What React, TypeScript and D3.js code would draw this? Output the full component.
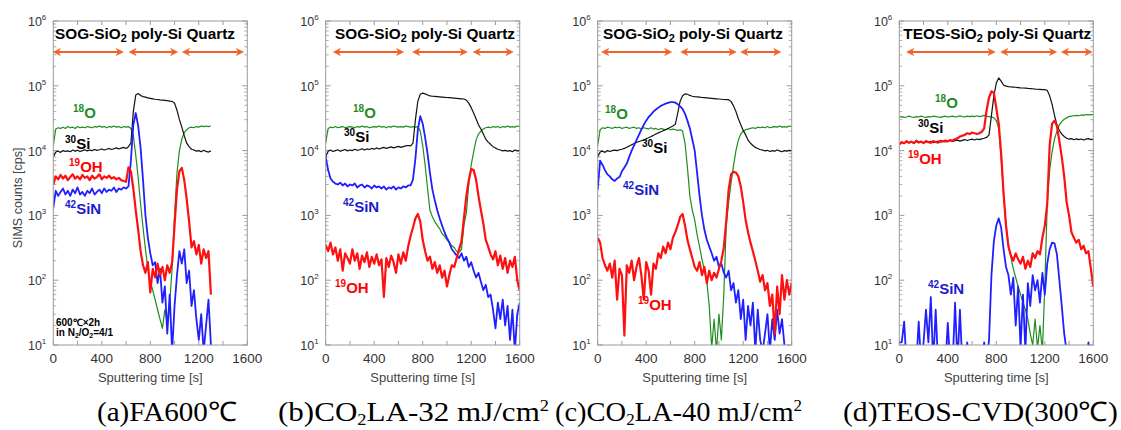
import React from 'react';
import * as d3 from 'd3';

// ---------------- DATA ----------------
const TIME_STEP = 20; // seconds between samples (index * step)
const X_TICKS = [0, 400, 800, 1200, 1600];
const X_MINOR = [200, 600, 1000, 1400];
const Y_EXPONENTS = [1, 2, 3, 4, 5, 6];

// Panel (a) FA600C  (0..1300 s)
const A_O18 = [12000,21500,22500,22000,23000,22000,23500,22500,23000,22000,
  23500,22500,23000,22500,23500,23000,22500,23500,23000,24000,
  23000,23500,22500,23500,23000,24000,23000,23500,22500,23500,
  23000,23500,22000,17000,8500,3800,1500,650,300,150,
  95,70,50,35,25,18,35,22,45,150,
  1000,4500,10000,15000,19000,21000,22500,23000,22500,23500,
  23000,24000,23500,24000,23500,24000];
const A_Si30 = [8000,9500,9800,9400,10000,9700,9900,9600,10200,9800,
  10100,9700,10000,10300,9900,10200,10000,10400,10100,10300,
  10600,10200,10500,10800,10400,10700,11000,10600,10900,11200,
  10800,11500,13000,40000,72000,76000,71000,68000,67000,65000,
  64000,63000,62000,61500,60500,60000,59500,59000,58000,57500,
  54000,42000,30000,23000,17000,13000,11500,10500,10200,9800,
  10000,9600,10100,9700,9500,9900];
const A_SiN42 = [1300,2400,2000,2300,2600,2100,2400,2000,2500,2200,
  2700,2100,2300,2000,2400,2200,2600,2100,2300,2500,
  2200,2600,2300,2500,2400,2700,2300,2600,2500,2700,
  2600,2800,7000,25000,38000,24000,11000,3500,1000,450,
  260,170,190,90,150,45,80,15,60,8,
  40,120,280,180,300,90,140,40,70,25,
  12,30,8,20,50,10];
const A_OH19 = [3000,4000,3600,4200,3700,4100,3500,3900,4300,3700,
  4000,3600,4200,3800,4000,3500,4100,3700,3900,4300,
  3600,4000,3800,4100,3700,3900,3600,3800,3500,3400,
  3300,5500,4800,2600,1200,600,280,170,130,190,
  65,150,110,180,120,160,100,170,130,190,
  700,2500,4800,5400,3500,1800,800,320,400,250,
  350,180,300,220,280,60];

// Panel (b) CO2LA-32 mJ/cm2
const B_O18 = [13000,22000,23000,22500,23500,22500,23000,23500,22500,23000,
  23500,23000,22500,23500,23000,24000,23000,23500,22500,23000,
  23500,23000,24000,23000,23500,22500,23500,23000,24000,23500,
  23000,23500,23000,24000,23500,23000,23500,23000,23500,20000,
  12000,6000,2600,1200,950,800,700,620,520,480,
  420,380,340,320,280,270,300,700,1100,3000,
  6000,9500,14500,18000,20000,21500,22500,23000,22500,23500,
  23000,23500,22500,23500,23000,24000,23000,23500,23000,24000,
  23500];
const B_Si30 = [8000,9800,10200,9700,10000,10300,9800,10100,10400,9900,
  10200,10000,10500,10100,10300,10700,10200,10600,10400,10800,
  10500,11000,10600,10900,11200,10800,11100,11400,11000,11300,
  11600,11200,11500,11800,12000,11800,13000,30000,58000,74000,
  77000,75000,72000,70000,69000,68500,68000,67500,67000,66500,
  66000,65500,65000,64500,64000,63500,63000,62500,60000,54000,
  46000,38000,31000,25000,21500,18000,15000,13500,12500,11500,
  11000,10500,10200,9900,10100,9800,10000,9600,10200,9900,
  10000];
const B_SiN42 = [8000,5000,3700,3300,3100,3000,3200,2900,3100,2800,
  3000,2900,3100,2700,2900,3000,2700,2900,2800,2600,
  2900,2700,2800,2600,2800,2500,2700,2600,2800,2500,
  2700,2600,2800,2700,2900,2900,3600,7500,21000,34000,
  26000,16000,9000,4500,2500,1700,1200,900,700,550,
  450,380,300,270,240,220,260,200,230,160,
  190,140,110,130,95,70,85,55,60,35,
  18,45,25,50,20,40,12,35,8,30,
  45];
const B_OH19 = [350,280,380,250,320,200,300,140,260,220,
  180,300,200,260,150,240,190,270,160,230,
  180,250,170,210,55,220,160,240,190,130,
  250,180,270,200,330,480,650,900,1050,800,
  420,280,200,230,150,190,130,170,110,140,
  80,120,170,160,220,300,400,900,2000,3500,
  5200,5000,3600,2000,1200,750,420,330,250,210,
  280,170,240,150,220,130,200,160,230,100,
  70];

// Panel (c) CO2LA-40 mJ/cm2
const C_O18 = [12000,21000,22500,22000,23000,22500,22000,23000,22500,23000,
  22000,22500,23000,22000,22500,23000,22000,22500,21500,22500,
  22000,21500,22500,21500,22000,21000,22000,21500,21000,22000,
  21000,21500,21000,20500,21000,20000,13000,5500,2000,1200,
  850,500,330,210,140,95,40,9,25,8,
  30,12,60,700,1600,3200,5800,10000,14500,18000,
  20000,21000,21500,22000,22500,22000,23000,22500,23000,22500,
  23500,22500,23000,23500,23000,24000,23000,23500,23000,24000,
  23500];
const C_Si30 = [8000,9500,9800,9400,10000,9700,10000,10200,10000,10300,
  10500,10800,11300,11800,12300,12800,13300,13800,14200,14600,
  15200,15800,16500,17200,18000,18800,19500,20300,21000,22000,
  23000,24000,25500,38000,58000,70000,75000,74000,71000,69000,
  68000,67500,67000,66000,65500,65000,64500,64000,63500,63000,
  62500,62000,61500,61000,61000,57000,49000,40000,31000,25000,
  20500,17500,14500,13000,12000,11200,10800,10400,10200,9900,
  10100,9700,10000,9800,10200,9900,9600,10000,9800,10100,
  9900];
const C_SiN42 = [2500,7000,6000,5000,4300,4000,3600,3400,3700,3900,
  4800,5500,6300,8000,10000,12000,14500,17500,21000,25000,
  29000,33000,36000,40000,43000,46000,49000,51000,53000,54500,
  56000,56000,55000,52000,48000,44000,37000,29000,22000,15000,
  10000,4500,2000,1000,600,420,330,260,200,230,
  160,180,130,110,140,70,90,45,70,25,
  50,12,40,20,45,8,35,12,8,15,
  30,8,25,12,35,15,25,10];
const C_OH19 = [450,380,220,170,140,180,110,200,50,150,
  120,14,170,130,200,100,160,220,120,50,
  190,140,60,180,150,260,220,330,260,380,
  300,450,550,700,950,1050,700,420,300,220,
  160,140,190,120,160,90,140,100,130,110,
  150,200,320,800,2500,4300,4700,4600,4000,2800,
  1600,850,550,380,280,200,140,95,120,70,
  90,40,60,15,80,30,120,50,100,60,
  90];

// Panel (d) TEOS-CVD(300C)
const D_O18 = [33000,33500,32500,33000,34000,33000,32500,33500,33000,34000,
  33000,32500,33500,33000,34000,33500,33000,32500,33500,34000,
  33000,33500,34000,33000,33500,34500,33500,33000,34000,33500,
  34000,33500,34500,33500,34000,35000,34000,33500,33000,32000,
  29000,22000,7500,2000,700,350,230,150,110,80,
  60,45,35,25,15,10,25,9,20,8,
  80,1500,5000,9500,15000,20000,25000,28000,30500,32000,
  33500,34000,34500,35000,34500,35500,35000,36000,35500,36000,
  36000];
const D_Si30 = [12500,13500,13000,13800,13200,13600,13000,13800,13300,13700,
  13200,13800,13400,13900,13300,13700,14000,13500,14100,13600,
  14000,14300,13800,14200,14500,14000,14400,14800,14300,14700,
  15000,14600,15100,14800,15200,15500,16000,17500,35000,70000,
  110000,132000,118000,103000,99000,97000,96000,95500,95000,94000,
  93000,92500,92000,91000,90500,90000,89000,88500,88000,87000,
  87000,85000,70000,52000,35000,25000,20500,18000,16500,15500,
  15000,15300,14700,15200,14800,15100,14600,15000,15300,14800,
  15000];
const D_SiN42 = [11,11,23,5,5,5,5,5,23,5,
  11,35,11,55,5,35,5,5,5,5,
  22,5,5,45,5,35,5,5,11,5,
  5,5,5,5,5,11,5,12,120,400,
  700,900,650,300,160,120,60,110,20,80,
  9,60,8,90,40,120,70,100,45,130,
  60,180,300,380,370,250,100,40,15,8,
  5,5,5,5,5,5,5,5,11,5,
  5];
const D_OH19 = [12500,13500,13000,14000,13200,13800,13000,14200,13400,13800,
  13000,14000,13500,13200,14000,13600,13300,14200,13800,14300,
  13900,14500,14200,15000,15500,16500,17000,17500,18500,18000,
  19000,18500,18000,18500,19500,22000,42000,66000,82000,78000,
  45000,26000,9000,2200,700,330,240,200,260,210,
  180,230,150,200,160,260,220,280,250,450,
  700,1500,12000,26000,29000,24000,14000,8000,4000,1600,
  1000,550,450,380,420,300,340,260,280,150,
  80];

// Layer ranges (arrows), in seconds
const A_ARROWS = [[0, 577], [625, 1026], [1065, 1568]];
const B_ARROWS = [[63, 643], [717, 1167], [1217, 1545]];
const C_ARROWS = [[33, 610], [685, 1141], [1180, 1510]];
const D_ARROWS = [[61, 790], [837, 1297], [1337, 1590]];

const SERIES_STYLE = {
  O18: { color: '#1e8c1e', width: 1.2, label: '#1e8c1e' },
  Si30: { color: '#111111', width: 1.2, label: '#000000' },
  SiN42: { color: '#1f1fff', width: 1.8, label: '#1a1ad0' },
  OH19: { color: '#ff1010', width: 2.2, label: '#ff0000' },
};
const DRAW_ORDER = ['O18', 'Si30', 'SiN42', 'OH19'];
const LABEL_TEXT = {
  O18: ['18', 'O'],
  Si30: ['30', 'Si'],
  SiN42: ['42', 'SiN'],
  OH19: ['19', 'OH'],
};

// ---------------- LAYOUT ----------------
const TOP = 21;
const BOTTOM = 345;
const PW = 194;

const PANELS = [
  {
    id: 'a', left: 53.3,
    data: { O18: A_O18, Si30: A_Si30, SiN42: A_SiN42, OH19: A_OH19 },
    arrows: A_ARROWS,
    title: 'SOG', titleX: 55, titleLen: 180,
    labels: { O18: [73, 118], Si30: [65, 149], OH19: [69, 172], SiN42: [65, 214] },
    caption: { x: 97, len: 140, parts: [['(a)FA600℃', 0]] },
  },
  {
    id: 'b', left: 325.7,
    data: { O18: B_O18, Si30: B_Si30, SiN42: B_SiN42, OH19: B_OH19 },
    arrows: B_ARROWS,
    title: 'SOG', titleX: 335, titleLen: 180,
    labels: { O18: [353, 118], Si30: [344, 142], SiN42: [343, 212], OH19: [335, 293] },
    caption: { x: 278, len: 271, parts: [['(b)CO', 0], ['2', 1], ['LA-32 mJ/cm', 0], ['2', -1]] },
  },
  {
    id: 'c', left: 597.7,
    data: { O18: C_O18, Si30: C_Si30, SiN42: C_SiN42, OH19: C_OH19 },
    arrows: C_ARROWS,
    title: 'SOG', titleX: 603, titleLen: 180,
    labels: { O18: [605, 119], Si30: [642, 153], SiN42: [623, 195], OH19: [638, 310] },
    caption: { x: 555, len: 247, parts: [['(c)CO', 0], ['2', 1], ['LA-40 mJ/cm', 0], ['2', -1]] },
  },
  {
    id: 'd', left: 899.3,
    data: { O18: D_O18, Si30: D_Si30, SiN42: D_SiN42, OH19: D_OH19 },
    arrows: D_ARROWS,
    title: 'TEOS', titleX: 903.3, titleLen: 188,
    labels: { O18: [935, 108], Si30: [918, 133], OH19: [908, 164], SiN42: [928, 294] },
    caption: { x: 843, len: 275, parts: [['(d)TEOS-CVD(300℃)', 0]] },
  },
];

const SANS = "'Liberation Sans', Arial, sans-serif";
const SERIF = "'Liberation Serif', 'Times New Roman', serif";
const ORANGE = '#f0622a';
const FRAME = '#9a9a9a';

function Panel({ p }) {
  const x = d3.scaleLinear().domain([0, 1600]).range([p.left, p.left + PW]);
  const y = d3.scaleLog().domain([10, 1e6]).range([BOTTOM, TOP]);
  const line = d3.line().x((d, i) => x(i * TIME_STEP)).y((d) => y(d));
  const clipId = `clip-${p.id}`;
  const minor = [];
  for (let e = 1; e < 6; e++) for (let m = 2; m <= 9; m++) minor.push(m * Math.pow(10, e));
  const ay = 52;
  return (
    <g>
      <defs>
        <clipPath id={clipId}>
          <rect x={p.left} y={TOP} width={PW} height={BOTTOM - TOP} />
        </clipPath>
      </defs>
      {Y_EXPONENTS.map((e) => (
        <g key={'yt' + e}>
          <line x1={p.left} x2={p.left + 5} y1={y(Math.pow(10, e))} y2={y(Math.pow(10, e))} stroke={FRAME} />
          <line x1={p.left + PW} x2={p.left + PW - 5} y1={y(Math.pow(10, e))} y2={y(Math.pow(10, e))} stroke={FRAME} />
          <text x={p.left - 7} y={y(Math.pow(10, e)) + 5} textAnchor="end" fontFamily={SANS} fontSize={12.5} fill="#333">
            10<tspan fontSize={8} dy={-6}>{e}</tspan>
          </text>
        </g>
      ))}
      {minor.map((v) => (
        <g key={'ym' + v}>
          <line x1={p.left} x2={p.left + 3} y1={y(v)} y2={y(v)} stroke={FRAME} strokeWidth={0.8} />
          <line x1={p.left + PW} x2={p.left + PW - 3} y1={y(v)} y2={y(v)} stroke={FRAME} strokeWidth={0.8} />
        </g>
      ))}
      {X_TICKS.concat(X_MINOR).map((t) => (
        <g key={'xt' + t}>
          <line x1={x(t)} x2={x(t)} y1={BOTTOM} y2={BOTTOM - 4} stroke={FRAME} />
          <line x1={x(t)} x2={x(t)} y1={TOP} y2={TOP + 4} stroke={FRAME} />
        </g>
      ))}
      {X_TICKS.map((t) => (
        <text key={'xl' + t} x={x(t)} y={363} textAnchor="middle" fontFamily={SANS} fontSize={13.5} fill="#333">
          {t}
        </text>
      ))}
      <text x={p.left + PW / 2} y={382} textAnchor="middle" fontFamily={SANS} fontSize={13} fill="#444">
        Sputtering time [s]
      </text>
      <g clipPath={`url(#${clipId})`}>
        {DRAW_ORDER.map((k) => (
          <path key={k} d={line(p.data[k])} fill="none" stroke={SERIES_STYLE[k].color}
            strokeWidth={SERIES_STYLE[k].width} strokeLinejoin="round" />
        ))}
      </g>
      <rect x={p.left} y={TOP} width={PW} height={BOTTOM - TOP} fill="none" stroke={FRAME} strokeWidth={1} />
      <text x={p.titleX} y={38.5} fontFamily={SANS} fontWeight="bold" fontSize={14} fill="#000"
        textLength={p.titleLen} lengthAdjust="spacingAndGlyphs">
        {p.title}-SiO<tspan fontSize={10} dy={3}>2</tspan><tspan dy={-3}> poly-Si Quartz</tspan>
      </text>
      {p.arrows.map(([t1, t2], i) => {
        const x1 = x(t1), x2 = x(t2);
        return (
          <g key={'ar' + i} fill={ORANGE} stroke={ORANGE}>
            <line x1={x1 + 4} x2={x2 - 4} y1={ay} y2={ay} strokeWidth={2} />
            <path d={`M${x1},${ay} L${x1 + 7},${ay - 3.5} L${x1 + 5},${ay} L${x1 + 7},${ay + 3.5} Z`} strokeWidth={0.6} />
            <path d={`M${x2},${ay} L${x2 - 7},${ay - 3.5} L${x2 - 5},${ay} L${x2 - 7},${ay + 3.5} Z`} strokeWidth={0.6} />
          </g>
        );
      })}
      {Object.keys(p.labels).map((k) => {
        const [lx, ly] = p.labels[k];
        return (
          <text key={'lb' + k} x={lx} y={ly} fontFamily={SANS} fontWeight="bold" fontSize={15} fill={SERIES_STYLE[k].label}>
            <tspan fontSize={10} dy={-6}>{LABEL_TEXT[k][0]}</tspan>
            <tspan dy={6}>{LABEL_TEXT[k][1]}</tspan>
          </text>
        );
      })}
      <text x={p.caption.x} y={421} fontFamily={SERIF} fontSize={27} fill="#000"
        textLength={p.caption.len} lengthAdjust="spacingAndGlyphs">
        {(() => {
          let cur = 0;
          return p.caption.parts.map(([s, shift], i) => {
            const target = shift === 1 ? 3.5 : shift === -1 ? -10 : 0;
            const dy = target - cur;
            cur = target;
            return (
              <tspan key={i} dy={dy} fontSize={shift === 0 ? 27 : 16}>{s}</tspan>
            );
          });
        })()}
      </text>
    </g>
  );
}

export default function App() {
  return (
    <svg width={1121} height={430} style={{ position: 'absolute', left: 0, top: 0, background: '#fff' }}>
      <rect x={0} y={0} width={1121} height={430} fill="#fff" />
      {PANELS.map((p) => (
        <Panel key={p.id} p={p} />
      ))}
      <text transform="translate(22,198) rotate(-90)" textAnchor="middle" fontFamily={SANS} fontSize={12.5} fill="#444">
        SIMS counts [cps]
      </text>
      <text x={56} y={326} fontFamily={SANS} fontWeight="bold" fontSize={10} fill="#000">600℃×2h</text>
      <text x={56} y={336} fontFamily={SANS} fontWeight="bold" fontSize={10} fill="#000">
        in N<tspan fontSize={7} dy={2}>2</tspan><tspan dy={-2}>/O</tspan><tspan fontSize={7} dy={2}>2</tspan><tspan dy={-2}>=4/1</tspan>
      </text>
    </svg>
  );
}
